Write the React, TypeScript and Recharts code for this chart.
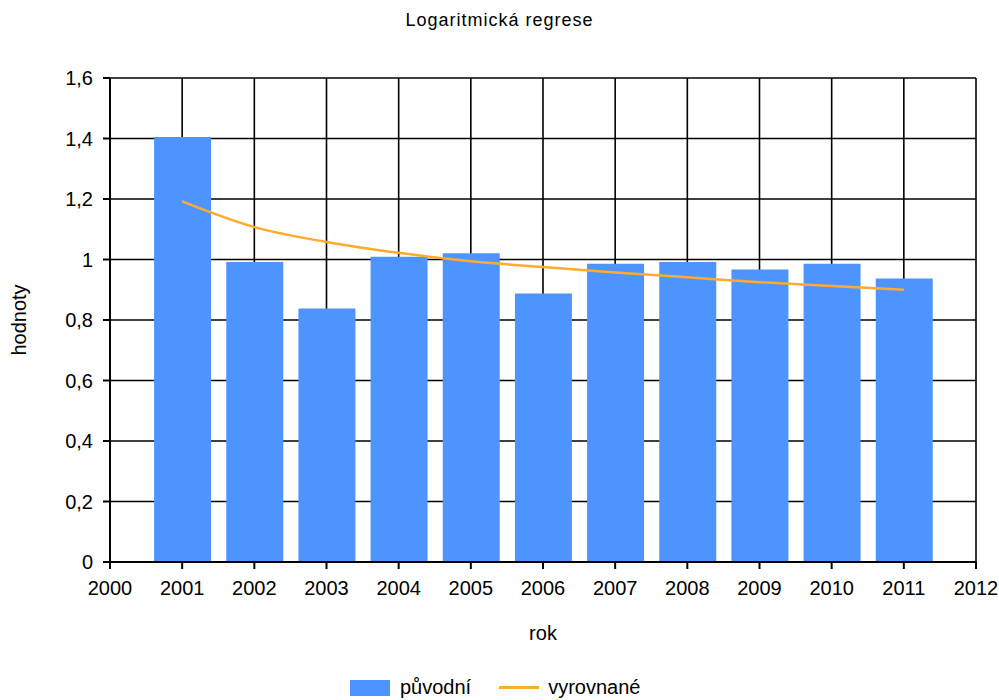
import { Bar, CartesianGrid, ComposedChart, Label, Legend, Line, XAxis, YAxis } from "recharts"

const roky = [2001, 2002, 2003, 2004, 2005, 2006, 2007, 2008, 2009, 2010, 2011]
const puvodni = [1.405, 0.992, 0.838, 1.009, 1.021, 0.888, 0.986, 0.992, 0.967, 0.986, 0.937]
const vyrovnane = [1.192, 1.107, 1.058, 1.022, 0.994, 0.975, 0.957, 0.941, 0.925, 0.912, 0.9]

const xTicks = [2000, 2001, 2002, 2003, 2004, 2005, 2006, 2007, 2008, 2009, 2010, 2011, 2012]
const yTicks = [0, 0.2, 0.4, 0.6, 0.8, 1, 1.2, 1.4, 1.6]

const data = roky.map((rok, i) => ({ rok, puvodni: puvodni[i], vyrovnane: vyrovnane[i] }))

const FONT = "'Liberation Sans', Arial, sans-serif"
const BLUE = "#4d94ff"
const ORANGE = "#ffab2e"

function formatY(value: number) {
  return String(Number(value.toFixed(1))).replace(".", ",")
}

function ChartLegend() {
  return (
    <div
      style={{
        display: "flex",
        alignItems: "center",
        fontFamily: FONT,
        fontSize: 20,
        color: "#000",
        paddingLeft: 350,
      }}
    >
      <span style={{ width: 40, height: 16, background: BLUE, display: "inline-block" }} />
      <span style={{ marginLeft: 10 }}>původní</span>
      <span style={{ width: 40, height: 3, background: ORANGE, display: "inline-block", marginLeft: 28 }} />
      <span style={{ marginLeft: 9 }}>vyrovnané</span>
    </div>
  )
}

export default function App() {
  return (
    <div style={{ position: "fixed", left: 0, top: 0, width: 999, height: 700, background: "#fff", overflow: "hidden" }}>
      <div
        style={{
          position: "absolute",
          top: 10,
          left: 0,
          width: 999,
          textAlign: "center",
          fontFamily: FONT,
          fontSize: 18,
          letterSpacing: 1,
          color: "#000",
        }}
      >
        Logaritmická regrese
      </div>
      <ComposedChart width={999} height={700} data={data} margin={{ top: 78, right: 23, left: 0, bottom: 0 }}>
        <CartesianGrid stroke="#000" strokeWidth={1.6} />
        <XAxis
          dataKey="rok"
          type="number"
          domain={[2000, 2012]}
          ticks={xTicks}
          interval={0}
          height={138}
          tickSize={7}
          tickMargin={12}
          axisLine={{ stroke: "#000", strokeWidth: 2 }}
          tickLine={{ stroke: "#000", strokeWidth: 2 }}
          tick={{ fill: "#000", fontSize: 20, fontFamily: FONT }}
        >
          <Label value="rok" position="insideBottom" offset={60} fill="#000" fontSize={20} fontFamily={FONT} />
        </XAxis>
        <YAxis
          type="number"
          domain={[0, 1.6]}
          ticks={yTicks}
          interval={0}
          width={110}
          tickSize={7}
          tickMargin={10}
          tickFormatter={formatY}
          axisLine={{ stroke: "#000", strokeWidth: 2 }}
          tickLine={{ stroke: "#000", strokeWidth: 2 }}
          tick={{ fill: "#000", fontSize: 20, fontFamily: FONT }}
        >
          <Label value="hodnoty" angle={-90} position="center" dx={-36} fill="#000" fontSize={20} fontFamily={FONT} />
        </YAxis>
        <Legend
          layout="horizontal"
          verticalAlign="middle"
          align="center"
          wrapperStyle={{ top: 676, left: 0, width: 999 }}
          content={() => <ChartLegend />}
        />
        <Bar dataKey="puvodni" name="původní" fill={BLUE} barSize={57} isAnimationActive={false} />
        <Line
          dataKey="vyrovnane"
          name="vyrovnané"
          type="monotone"
          stroke={ORANGE}
          strokeWidth={2.5}
          dot={false}
          activeDot={false}
          isAnimationActive={false}
        />
      </ComposedChart>
    </div>
  )
}
